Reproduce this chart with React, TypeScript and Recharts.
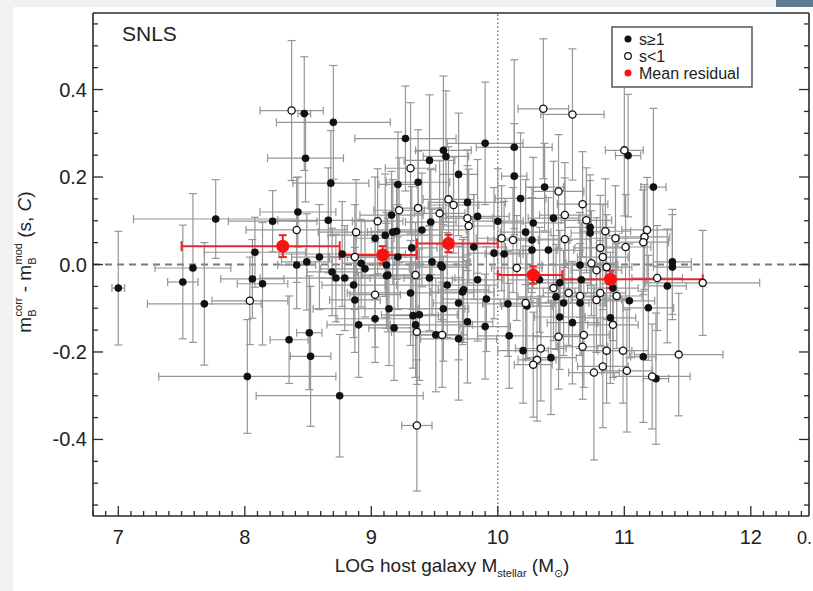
import React from "react";
import {
  ScatterChart,
  Scatter,
  XAxis,
  YAxis,
  ErrorBar,
  ReferenceLine,
} from "recharts";

const FONT = '"Liberation Sans", Arial, Helvetica, sans-serif';
const AX = "#2a2a2a";
const BAR = "#969696";

// [log M*, residual, x error, y error]
const filledPts: number[][] = [
  [7.0, -0.054, 0.05, 0.13],
  [7.77, 0.104, 0.65, 0.09],
  [7.59, -0.008, 0.3, 0.17],
  [7.51, -0.04, 0.12, 0.13],
  [7.68, -0.09, 0.45, 0.14],
  [8.06, -0.033, 0.25, 0.09],
  [8.14, -0.044, 0.2, 0.14],
  [8.02, -0.256, 0.7, 0.13],
  [8.35, -0.172, 0.15, 0.1],
  [8.51, -0.156, 0.1, 0.13],
  [8.52, -0.21, 0.16, 0.16],
  [8.75, -0.3, 0.66, 0.14],
  [8.08, 0.028, 0.4, 0.08],
  [8.22, 0.099, 0.35, 0.07],
  [8.42, 0.12, 0.3, 0.08],
  [8.41, -0.001, 0.15, 0.1],
  [8.49, 0.006, 0.2, 0.11],
  [8.48, 0.243, 0.3, 0.1],
  [8.47, 0.345, 0.05, 0.13],
  [8.7, 0.325, 0.45, 0.13],
  [8.68, 0.186, 0.3, 0.12],
  [8.66, 0.101, 0.4, 0.12],
  [8.59, 0.017, 0.22, 0.12],
  [9.27, 0.288, 0.4, 0.12],
  [9.9, 0.277, 0.3, 0.14],
  [10.13, 0.268, 0.3, 0.2],
  [9.46, 0.238, 0.2, 0.15],
  [9.57, 0.261, 0.22, 0.17],
  [9.59, 0.247, 0.18, 0.15],
  [9.69, 0.206, 0.15, 0.14],
  [10.13, 0.202, 0.1, 0.12],
  [10.37, 0.177, 0.15, 0.1],
  [10.18, 0.151, 0.2, 0.15],
  [9.37, 0.188, 0.25, 0.12],
  [9.21, 0.183, 0.15, 0.12],
  [9.16, 0.113, 0.25, 0.1],
  [9.76, 0.142, 0.3, 0.12],
  [9.84, 0.11, 0.25, 0.13],
  [9.47, 0.097, 0.2, 0.12],
  [9.4, 0.079, 0.35, 0.13],
  [9.2, 0.076, 0.2, 0.11],
  [9.11, 0.067, 0.45, 0.14],
  [9.03, 0.06, 0.15, 0.14],
  [10.0, 0.099, 0.2, 0.12],
  [10.28, 0.095, 0.25, 0.15],
  [10.22, 0.074, 0.2, 0.12],
  [10.27, 0.056, 0.3, 0.12],
  [10.44, 0.106, 0.2, 0.13],
  [8.77, 0.024, 0.5, 0.12],
  [8.92, 0.003, 0.15, 0.1],
  [8.95, -0.01, 0.35, 0.11],
  [8.69, -0.017, 0.2, 0.1],
  [8.72, -0.031, 0.6, 0.1],
  [8.79, -0.031, 0.2, 0.12],
  [8.86, -0.047, 0.25, 0.12],
  [9.13, -0.024, 0.2, 0.13],
  [9.21, 0.017, 0.55, 0.12],
  [9.32, 0.038, 0.2, 0.14],
  [9.81, 0.04, 0.25, 0.12],
  [9.97, 0.026, 0.2, 0.15],
  [10.05, 0.024, 0.15, 0.12],
  [9.48, 0.006, 0.3, 0.12],
  [9.55, -0.001, 0.2, 0.13],
  [9.46, -0.031, 0.2, 0.12],
  [9.6, -0.047, 0.4, 0.12],
  [9.84, -0.035, 0.2, 0.14],
  [9.72, -0.063, 0.25, 0.12],
  [9.31, -0.065, 0.5, 0.12],
  [8.87, -0.081, 0.2, 0.12],
  [9.14, -0.101, 0.6, 0.13],
  [9.33, -0.117, 0.2, 0.12],
  [9.38, -0.115, 0.3, 0.15],
  [9.57, -0.101, 0.2, 0.12],
  [9.69, -0.088, 0.2, 0.13],
  [9.91, -0.079, 0.35, 0.12],
  [10.08, -0.09, 0.2, 0.12],
  [9.76, -0.131, 0.2, 0.14],
  [9.03, -0.124, 0.3, 0.1],
  [8.9, -0.138, 0.25, 0.12],
  [9.18, -0.145, 0.2, 0.12],
  [9.35, -0.138, 0.45, 0.12],
  [9.51, -0.161, 0.2, 0.13],
  [9.69, -0.17, 0.3, 0.14],
  [9.9, -0.142, 0.2, 0.12],
  [10.09, -0.163, 0.25, 0.12],
  [10.2, -0.197, 0.2, 0.12],
  [10.42, -0.213, 0.2, 0.13],
  [10.49, -0.12, 0.2, 0.12],
  [10.46, -0.074, 0.3, 0.12],
  [10.52, -0.088, 0.2, 0.12],
  [10.49, -0.042, 0.25, 0.12],
  [10.4, 0.033, 0.2, 0.12],
  [10.27, 0.033, 0.2, 0.12],
  [10.73, 0.085, 0.2, 0.12],
  [10.73, 0.072, 0.15, 0.12],
  [11.03, 0.249, 0.1, 0.14],
  [11.23, 0.177, 0.1, 0.18],
  [10.65, -0.001, 0.3, 0.12],
  [11.38, 0.006, 0.15, 0.12],
  [11.38, -0.006, 0.15, 0.12],
  [9.17, 0.074, 0.2, 0.12],
  [9.12, -0.026, 0.2, 0.12],
  [9.56, -0.006, 0.2, 0.12],
  [10.66, -0.035, 0.2, 0.13],
  [11.34, -0.049, 0.15, 0.13],
  [9.73, -0.058, 0.2, 0.12],
  [9.12, -0.001, 0.25, 0.12],
  [10.23, -0.095, 0.2, 0.12],
  [10.59, -0.133, 0.2, 0.14],
  [10.65, -0.088, 0.2, 0.12],
  [10.33, -0.035, 0.25, 0.12],
  [10.89, -0.122, 0.2, 0.15],
  [10.91, -0.054, 0.2, 0.12],
  [11.04, -0.083, 0.2, 0.13],
  [11.19, -0.099, 0.2, 0.12],
  [11.15, -0.211, 0.1, 0.15],
  [11.25, -0.261, 0.1, 0.15],
];

const openPts: number[][] = [
  [8.37, 0.352, 0.25, 0.16],
  [9.31, 0.22, 0.2, 0.15],
  [8.41, 0.079, 0.4, 0.12],
  [8.88, 0.074, 0.3, 0.12],
  [9.05, 0.099, 0.2, 0.12],
  [9.22, 0.124, 0.2, 0.12],
  [9.37, 0.129, 0.2, 0.13],
  [9.54, 0.117, 0.2, 0.12],
  [9.61, 0.149, 0.2, 0.12],
  [9.65, 0.136, 0.2, 0.11],
  [9.76, 0.106, 0.2, 0.12],
  [9.77, 0.088, 0.2, 0.13],
  [10.03, 0.06, 0.2, 0.12],
  [10.12, 0.056, 0.2, 0.12],
  [10.48, 0.167, 0.2, 0.13],
  [10.53, 0.113, 0.2, 0.12],
  [10.53, 0.058, 0.2, 0.14],
  [8.04, -0.083, 0.3, 0.1],
  [9.03, -0.069, 0.2, 0.12],
  [9.35, -0.024, 0.2, 0.12],
  [8.87, 0.017, 0.2, 0.12],
  [10.15, -0.008, 0.2, 0.12],
  [10.22, -0.088, 0.2, 0.13],
  [10.44, -0.054, 0.2, 0.12],
  [9.36, -0.154, 0.2, 0.12],
  [9.56, -0.161, 0.2, 0.12],
  [10.34, -0.192, 0.2, 0.12],
  [10.31, -0.218, 0.15, 0.14],
  [10.28, -0.229, 0.15, 0.12],
  [10.48, -0.165, 0.2, 0.12],
  [10.36, 0.356, 0.2, 0.16],
  [10.59, 0.343, 0.25, 0.15],
  [11.0, 0.261, 0.15, 0.15],
  [10.67, 0.138, 0.2, 0.12],
  [10.7, 0.101, 0.2, 0.12],
  [10.85, 0.076, 0.2, 0.12],
  [10.81, 0.038, 0.2, 0.12],
  [10.93, 0.06, 0.2, 0.12],
  [11.01, 0.04, 0.2, 0.12],
  [10.83, 0.017, 0.2, 0.12],
  [11.18, 0.079, 0.2, 0.12],
  [11.16, 0.063, 0.2, 0.12],
  [11.15, 0.051, 0.2, 0.12],
  [10.74, 0.003, 0.2, 0.12],
  [10.86, -0.006, 0.2, 0.12],
  [10.78, -0.013, 0.2, 0.12],
  [11.26, -0.031, 0.2, 0.12],
  [11.62, -0.042, 0.45, 0.12],
  [9.36, -0.368, 0.12, 0.15],
  [10.56, -0.065, 0.2, 0.12],
  [10.65, -0.072, 0.2, 0.12],
  [10.78, -0.081, 0.2, 0.12],
  [10.81, -0.065, 0.2, 0.12],
  [10.94, -0.072, 0.2, 0.12],
  [10.67, -0.188, 0.2, 0.12],
  [10.68, -0.161, 0.2, 0.12],
  [10.76, -0.247, 0.2, 0.2],
  [10.83, -0.233, 0.2, 0.14],
  [10.86, -0.197, 0.2, 0.12],
  [10.99, -0.197, 0.2, 0.12],
  [11.02, -0.243, 0.2, 0.14],
  [10.91, -0.138, 0.2, 0.12],
  [11.22, -0.256, 0.3, 0.12],
  [11.43, -0.206, 0.35, 0.14],
];

// binned means: [x, y, x low, x high, y error]
const meanPts: number[][] = [
  [8.3, 0.042, 0.8, 0.45, 0.025],
  [9.09, 0.022, 0.34, 0.27, 0.02],
  [9.61, 0.048, 0.25, 0.39, 0.02],
  [10.28, -0.024, 0.28, 0.23, 0.02],
  [10.89, -0.034, 0.38, 0.73, 0.02],
];

const xMajor = [7, 8, 9, 10, 11, 12];
const xTicks = Array.from({ length: 57 }, (_, i) => (68 + i) / 10);
const yTicks = Array.from({ length: 23 }, (_, i) => (i - 11) * 5 / 100);
const X_DOMAIN: [number, number] = [6.8, 12.46];
const Y_DOMAIN: [number, number] = [-0.575, 0.575];

const toObj = (p: number[]) => ({ x: p[0], y: p[1], xe: p[2], ye: p[3] });
const filledData = filledPts.map(toObj);
const openData = openPts.map(toObj);
const allData = [...filledData, ...openData];
const meanData = meanPts.map((p) => ({ x: p[0], y: p[1], xe: [p[2], p[3]], ye: p[4] }));

const isMajorX = (v: number) => xMajor.some((m) => Math.abs(m - v) < 1e-6);
const isMajorY = (v: number) => Math.abs(Math.round(v * 100)) % 20 === 0;

const BottomTick = ({ x, y, payload }: any) => {
  const major = isMajorX(payload.value);
  return (
    <g>
      <line x1={x} x2={x} y1={y} y2={y - (major ? 10 : 5)} stroke={AX} strokeWidth={1.3} />
      {major && (
        <text x={x} y={y + 28} textAnchor="middle" fontSize={20} fontFamily={FONT} fill="#222">
          {Math.round(payload.value)}
        </text>
      )}
    </g>
  );
};

const TopTick = ({ x, y, payload }: any) => {
  const major = isMajorX(payload.value);
  return <line x1={x} x2={x} y1={y} y2={y + (major ? 10 : 5)} stroke={AX} strokeWidth={1.3} />;
};

const LeftTick = ({ x, y, payload }: any) => {
  const major = isMajorY(payload.value);
  return (
    <g>
      <line x1={x} x2={x + (major ? 10 : 5)} y1={y} y2={y} stroke={AX} strokeWidth={1.3} />
      {major && (
        <text x={x - 6} y={y + 7} textAnchor="end" fontSize={20} fontFamily={FONT} fill="#222">
          {payload.value.toFixed(1)}
        </text>
      )}
    </g>
  );
};

const RightTick = ({ x, y, payload }: any) => {
  const major = isMajorY(payload.value);
  return <line x1={x} x2={x - (major ? 10 : 5)} y1={y} y2={y} stroke={AX} strokeWidth={1.3} />;
};

const XTitle = () => (
  <text x={452} y={572} textAnchor="middle" fontSize={19} fontFamily={FONT} fill="#222">
    LOG host galaxy M
    <tspan fontSize={11} dy={5}>stellar</tspan>
    <tspan dy={-5}> (M</tspan>
    <tspan fontSize={11} dy={5}>⊙</tspan>
    <tspan dy={-5}>)</tspan>
  </text>
);

const YTitle = () => (
  <text
    transform="translate(31,262) rotate(-90)"
    textAnchor="middle"
    fontSize={19}
    fontFamily={FONT}
    fill="#222"
  >
    m
    <tspan fontSize={11} dy={5}>B</tspan>
    <tspan fontSize={11} dx={-7} dy={-14}>corr</tspan>
    <tspan dy={9}> - m</tspan>
    <tspan fontSize={11} dy={5}>B</tspan>
    <tspan fontSize={11} dx={-7} dy={-14}>mod</tspan>
    <tspan dy={9}> (s, </tspan>
    <tspan fontStyle="italic">C</tspan>
    <tspan>)</tspan>
  </text>
);

const noShape = () => <g />;
const filledShape = (p: any) => <circle cx={p.cx} cy={p.cy} r={3.8} fill="#111" />;
const openShape = (p: any) => (
  <circle cx={p.cx} cy={p.cy} r={3.6} fill="#fff" stroke="#111" strokeWidth={1.3} />
);
const meanShape = (p: any) => <circle cx={p.cx} cy={p.cy} r={6.5} fill="#ff1010" />;

export default function App() {
  return (
    <div
      style={{
        position: "relative",
        width: 813,
        height: 591,
        background: "#f1f1f1",
        overflow: "hidden",
        fontFamily: FONT,
      }}
    >
      <style>{"body{margin:0;background:#f1f1f1}"}</style>
      <div style={{ position: "absolute", left: 13, top: 7, right: 0, bottom: 0, background: "#fff" }} />
      <div style={{ position: "absolute", left: 776, top: 0, width: 37, height: 7, background: "#5c7c92" }} />
      <div style={{ position: "absolute", left: 0, top: 0 }}>
        <ScatterChart width={813} height={591} margin={{ top: 0, right: 0, bottom: 0, left: 0 }}>
          <XAxis
            xAxisId="b"
            dataKey="x"
            type="number"
            domain={X_DOMAIN}
            allowDataOverflow
            ticks={xTicks}
            interval={0}
            tick={<BottomTick />}
            tickSize={0}
            tickMargin={0}
            tickLine={false}
            height={75}
            axisLine={{ stroke: AX, strokeWidth: 1.6 }}
            label={<XTitle />}
          />
          <XAxis
            xAxisId="t"
            orientation="top"
            type="number"
            domain={X_DOMAIN}
            allowDataOverflow
            ticks={xTicks}
            interval={0}
            tick={<TopTick />}
            tickSize={0}
            tickMargin={0}
            tickLine={false}
            height={13}
            axisLine={{ stroke: AX, strokeWidth: 1.6 }}
          />
          <YAxis
            yAxisId="l"
            dataKey="y"
            type="number"
            domain={Y_DOMAIN}
            allowDataOverflow
            ticks={yTicks}
            interval={0}
            tick={<LeftTick />}
            tickSize={0}
            tickMargin={0}
            tickLine={false}
            width={93}
            axisLine={{ stroke: AX, strokeWidth: 1.6 }}
            label={<YTitle />}
          />
          <YAxis
            yAxisId="r"
            orientation="right"
            type="number"
            domain={Y_DOMAIN}
            allowDataOverflow
            ticks={yTicks}
            interval={0}
            tick={<RightTick />}
            tickSize={0}
            tickMargin={0}
            tickLine={false}
            width={4}
            axisLine={{ stroke: AX, strokeWidth: 1.6 }}
          />
          <ReferenceLine xAxisId="b" yAxisId="l" y={0} stroke="#7a7a7a" strokeWidth={2} strokeDasharray="7 5" />
          <ReferenceLine xAxisId="b" yAxisId="l" x={10} stroke="#555" strokeWidth={1.2} strokeDasharray="1.5 2.5" />
          <Scatter xAxisId="b" yAxisId="l" data={allData} shape={noShape} isAnimationActive={false}>
            <ErrorBar dataKey="ye" direction="y" width={4} stroke={BAR} strokeWidth={1.2} />
            <ErrorBar dataKey="xe" direction="x" width={4} stroke={BAR} strokeWidth={1.2} />
          </Scatter>
          <Scatter xAxisId="b" yAxisId="l" data={filledData} shape={filledShape} isAnimationActive={false} />
          <Scatter xAxisId="b" yAxisId="l" data={openData} shape={openShape} isAnimationActive={false} />
          <Scatter xAxisId="b" yAxisId="l" data={meanData} shape={meanShape} isAnimationActive={false}>
            <ErrorBar dataKey="xe" direction="x" width={5} stroke="#e8262a" strokeWidth={2} />
            <ErrorBar dataKey="ye" direction="y" width={4} stroke="#e8262a" strokeWidth={2} />
          </Scatter>
        </ScatterChart>
      </div>
      <svg
        width={813}
        height={591}
        style={{ position: "absolute", left: 0, top: 0, pointerEvents: "none" }}
      >
        <text x={122} y={41} fontSize={21} fontFamily={FONT} fill="#222">
          SNLS
        </text>
        <text x={797} y={544} fontSize={18} fontFamily={FONT} fill="#222">
          0.
        </text>
        <rect x={612} y={27} width={140} height={60} fill="#fff" stroke="#555" strokeWidth={1.5} />
        <circle cx={628} cy={39} r={3.5} fill="#111" />
        <text x={639} y={44.5} fontSize={16} fontFamily={FONT} fill="#222">s≥1</text>
        <circle cx={628} cy={56} r={3.3} fill="#fff" stroke="#111" strokeWidth={1.2} />
        <text x={639} y={61.5} fontSize={16} fontFamily={FONT} fill="#222">s&lt;1</text>
        <circle cx={628} cy={73} r={3.5} fill="#ff1010" />
        <text x={639} y={78.5} fontSize={16} fontFamily={FONT} fill="#222">Mean residual</text>
      </svg>
    </div>
  );
}
